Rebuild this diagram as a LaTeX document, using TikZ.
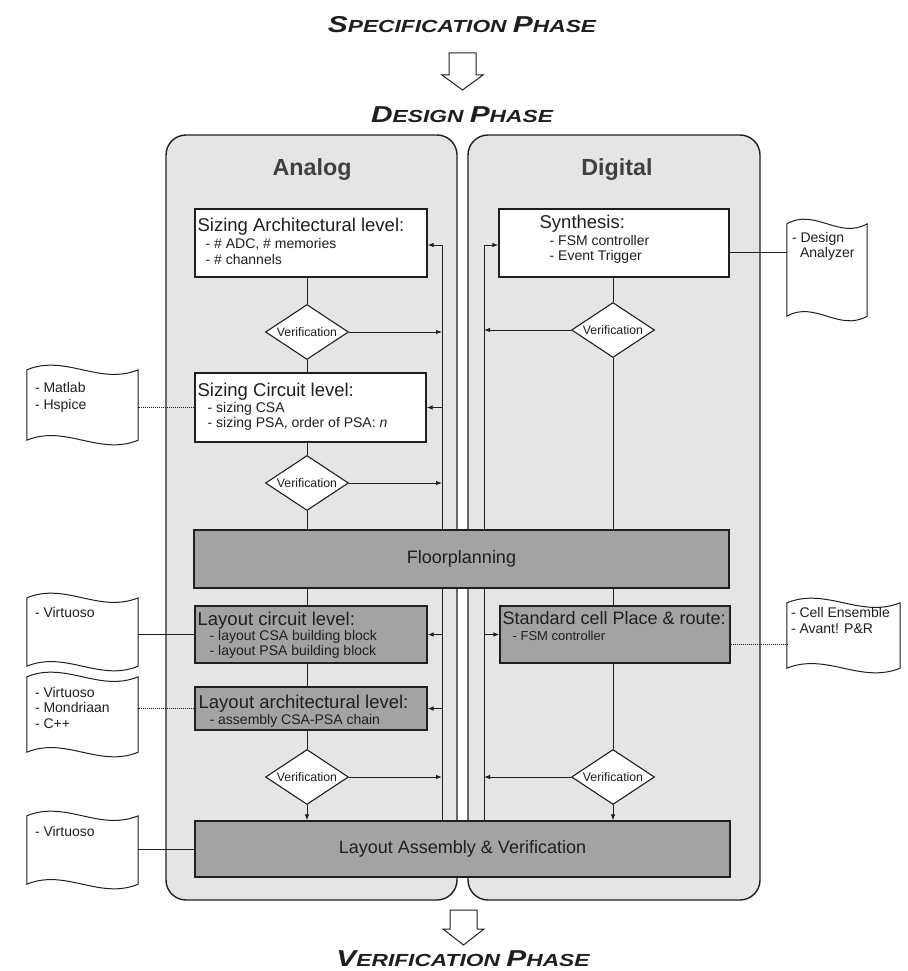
\documentclass[tikz,border=0pt]{standalone}
\usepackage{fontspec}
\setmainfont{Liberation Sans}
\usepackage{graphicx}
\usetikzlibrary{shapes.geometric,calc,arrows.meta}

\pgfdeclarelayer{panels}
\pgfdeclarelayer{wires}
\pgfsetlayers{panels,wires,main}

\definecolor{panelfill}{gray}{0.90}
\definecolor{darkfill}{gray}{0.64}
\definecolor{ink}{gray}{0.12}
\definecolor{titleink}{gray}{0.25}

\newcommand\headfont{\fontsize{18.5}{20}\selectfont}
\newcommand\subfont{\fontsize{14}{15}\selectfont}
% phase headings: large initials, smaller capitals, bold oblique, widened
\newcommand\phasetitle[4]{\scalebox{1.3}[1]{\bfseries\itshape
  \fontsize{23}{23}\selectfont #1\fontsize{17.5}{17.5}\selectfont #2\ %
  \fontsize{23}{23}\selectfont #3\fontsize{17.5}{17.5}\selectfont #4}}
% outline of a tool sheet: wavy top and bottom edges
\newcommand\wavydoc[1]{%
  \draw[docline] (#1.north west)
    .. controls ($(#1.north west)!0.35!(#1.north east)+(0,-16)$) and ($(#1.north west)!0.65!(#1.north east)+(0,16)$) .. (#1.north east)
    -- (#1.south east)
    .. controls ($(#1.south west)!0.65!(#1.south east)+(0,16)$) and ($(#1.south west)!0.35!(#1.south east)+(0,-16)$) .. (#1.south west)
    -- cycle;}

\tikzset{
  panel/.style={draw=ink, line width=1.4pt, fill=panelfill, rounded corners=20pt, inner sep=0pt},
  paneltitle/.style={font=\bfseries\fontsize{23.3}{24}\selectfont, text=titleink, anchor=base, inner sep=0pt},
  wbox/.style={draw=ink, line width=1.1pt, fill=white, inner sep=0pt},
  darkbox/.style={draw=ink, line width=1.1pt, fill=darkfill, inner sep=0pt, text=ink, font=\fontsize{18}{20}\selectfont},
  headtxt/.style={font=\headfont, text=ink, anchor=base west, inner sep=0pt},
  subtxt/.style={font=\subfont, text=ink, anchor=base west, inner sep=0pt},
  verif/.style={diamond, draw=ink, line width=1.1pt, fill=white, aspect=1.5, inner sep=0pt,
    minimum width=83, minimum height=55, font=\fontsize{12.3}{13}\selectfont, text=ink},
  docarea/.style={inner sep=0pt, draw=none},
  docline/.style={draw=ink, line width=1pt},
  link/.style={draw=ink, line width=1pt},
  dotlink/.style={draw=ink, line width=1pt, dash pattern=on 1pt off 1pt},
  arr/.style={draw=ink, line width=1pt, -{Latex[length=6pt,width=4.5pt]}},
  phase/.style={anchor=base, inner sep=0pt, text=ink},
  hollow/.style={draw=ink, line width=1pt, fill=white}
}

\begin{document}
\begin{tikzpicture}[x=1pt, y=-1pt]
\useasboundingbox (0,0) rectangle (907,971);

% ---------- phase headings and block arrows ----------
\node[phase] (spec) at (462,33) {\phasetitle{S}{PECIFICATION}{P}{HASE}};
\node[phase] (design) at (462,123) {\phasetitle{D}{ESIGN}{P}{HASE}};
\node[phase] (verph) at (463,966) {\phasetitle{V}{ERIFICATION}{P}{HASE}};
\draw[hollow] (449,53) -- (476,53) -- (476,75) -- (483,75) -- (462.5,90) -- (442,75) -- (449,75) -- cycle;
\draw[hollow] (450,910) -- (477,910) -- (477,929) -- (484,929) -- (463.5,945) -- (443,929) -- (450,929) -- cycle;

% ---------- the two columns ----------
\begin{pgfonlayer}{panels}
  \fill[white] (0,0) rectangle (907,971);
  \node[panel, minimum width=291, minimum height=765] (apanel) at (311.5,517.5) {};
  \node[panel, minimum width=292, minimum height=765] (dpanel) at (614,517.5) {};
\end{pgfonlayer}
\node[paneltitle] (atitle) at (312,175) {Analog};
\node[paneltitle] (dtitle) at (617,175) {Digital};

% ---------- analog flow ----------
\node[wbox, minimum width=232, minimum height=68] (sa) at (311,243) {};
\node[headtxt] (sa-h) at ([shift={(3,23)}]sa.north west) {Sizing Architectural level:};
\node[subtxt] (sa-1) at ([shift={(11,40)}]sa.north west) {- \# ADC, \# memories};
\node[subtxt] (sa-2) at ([shift={(11,56)}]sa.north west) {- \# channels};

\node[verif] (a1) at (307,332) {Verification};

\node[wbox, minimum width=231, minimum height=69] (sc) at (310.5,407.5) {};
\node[headtxt] (sc-h) at ([shift={(3,24)}]sc.north west) {Sizing Circuit level:};
\node[subtxt] (sc-1) at ([shift={(13,40)}]sc.north west) {- sizing CSA};
\node[subtxt] (sc-2) at ([shift={(13,55)}]sc.north west) {- sizing PSA, order of PSA: \textit{n}};

\node[verif] (a2) at (307,483) {Verification};

\node[darkbox, minimum width=535, minimum height=58] (floor) at (461.5,559) {Floorplanning};

\node[darkbox, minimum width=232, minimum height=57] (lcl) at (311,634.5) {};
\node[headtxt] (lcl-h) at ([shift={(3,20)}]lcl.north west) {Layout circuit level:};
\node[subtxt] (lcl-1) at ([shift={(15,35)}]lcl.north west) {- layout CSA building block};
\node[subtxt] (lcl-2) at ([shift={(15,50)}]lcl.north west) {- layout PSA building block};

\node[darkbox, minimum width=232, minimum height=43] (lal) at (311,708.5) {};
\node[headtxt] (lal-h) at ([shift={(4,22)}]lal.north west) {Layout architectural level:};
\node[subtxt] (lal-1) at ([shift={(15,38)}]lal.north west) {- assembly CSA-PSA chain};

\node[verif] (a3) at (307,777) {Verification};

\node[darkbox, minimum width=535, minimum height=56] (asm) at (462.5,849) {Layout Assembly \& Verification};

% ---------- digital flow ----------
\node[wbox, minimum width=230, minimum height=68] (syn) at (614,243) {};
\node[headtxt] (syn-h) at ([shift={(41,20)}]syn.north west) {Synthesis:};
\node[subtxt] (syn-1) at ([shift={(51,37)}]syn.north west) {- FSM controller};
\node[subtxt] (syn-2) at ([shift={(51,52)}]syn.north west) {- Event Trigger};

\node[verif] (d1) at (613,330) {Verification};

\node[darkbox, minimum width=230, minimum height=57] (std) at (615,634.5) {};
\node[headtxt, font=\fontsize{18}{20}\selectfont] (std-h) at ([shift={(3,19)}]std.north west) {Standard cell Place \& route:};
\node[subtxt, font=\fontsize{13}{14}\selectfont] (std-1) at ([shift={(13,35)}]std.north west) {- FSM controller};

\node[verif] (d2) at (613,777) {Verification};

% ---------- tool sheets ----------
\node[docarea, minimum width=111, minimum height=70] (matlab) at (82.5,405) {};
\node[subtxt] (matlab-1) at ([shift={(8,23)}]matlab.north west) {- Matlab};
\node[subtxt] (matlab-2) at ([shift={(8,40)}]matlab.north west) {- Hspice};
\wavydoc{matlab}

\node[docarea, minimum width=111, minimum height=68] (virt1) at (82.5,632) {};
\node[subtxt] (virt1-1) at ([shift={(8,20)}]virt1.north west) {- Virtuoso};
\wavydoc{virt1}

\node[docarea, minimum width=111, minimum height=75] (virt2) at (82.5,714.5) {};
\node[subtxt] (virt2-1) at ([shift={(8,21)}]virt2.north west) {- Virtuoso};
\node[subtxt] (virt2-2) at ([shift={(8,36)}]virt2.north west) {- Mondriaan};
\node[subtxt] (virt2-3) at ([shift={(8,52)}]virt2.north west) {- C++};
\wavydoc{virt2}

\node[docarea, minimum width=111, minimum height=68] (virt3) at (82.5,850) {};
\node[subtxt] (virt3-1) at ([shift={(8,21)}]virt3.north west) {- Virtuoso};
\wavydoc{virt3}

\node[docarea, minimum width=80, minimum height=92] (da) at (827,270) {};
\node[subtxt] (da-1) at ([shift={(5,19)}]da.north west) {- Design};
\node[subtxt] (da-2) at ([shift={(13,34)}]da.north west) {Analyzer};
\wavydoc{da}

\node[docarea, minimum width=113, minimum height=65] (ce) at (843.5,635.5) {};
\node[subtxt] (ce-1) at ([shift={(4,15)}]ce.north west) {- Cell Ensemble};
\node[subtxt] (ce-2) at ([shift={(4,31)}]ce.north west) {- Avant! P\&R};
\wavydoc{ce}

% ---------- connectors ----------
\begin{pgfonlayer}{wires}
  % analog downward flow
  \draw[link] (sa.south -| a1.north) -- (a1.north);
  \draw[link] (a1.south) -- (a1.south |- sc.north);
  \draw[link] (sc.south -| a2.north) -- (a2.north);
  \draw[link] (a2.south) -- (a2.south |- floor.north);
  \draw[link] (floor.south -| a2.south) -- (a2.south |- lcl.north);
  \draw[link] (lcl.south -| a3.north) -- (a3.north |- lal.north);
  \draw[link] (lal.south -| a3.north) -- (a3.north);
  \draw[arr] (a3.south) -- (a3.south |- asm.north);
  % digital downward flow
  \draw[link] (syn.south -| d1.north) -- (d1.north);
  \draw[link] (d1.south) -- (d1.south |- floor.north);
  \draw[link] (floor.south -| d1.south) -- (d1.south |- std.north);
  \draw[link] (std.south -| d2.north) -- (d2.north);
  \draw[arr] (d2.south) -- (d2.south |- asm.north);
  % analog return path
  \coordinate (afb) at (442,245);
  \draw[link] (afb) -- (afb |- asm.north);
  \draw[arr] (afb) -- (afb -| sa.east);
  \draw[arr] (sc.east -| afb) -- (sc.east);
  \draw[arr] (lcl.east -| afb) -- (lcl.east);
  \draw[arr] (lal.east -| afb) -- (lal.east);
  \draw[arr] (a1.east) -- (a1.east -| afb);
  \draw[arr] (a2.east) -- (a2.east -| afb);
  \draw[arr] (a3.east) -- (a3.east -| afb);
  % digital return path
  \coordinate (dfb) at (484,245);
  \draw[link] (dfb) -- (dfb |- asm.north);
  \draw[arr] (dfb) -- (dfb -| syn.west);
  \draw[arr] (std.west -| dfb) -- (std.west);
  \draw[arr] (d1.west) -- (d1.west -| dfb);
  \draw[arr] (d2.west) -- (d2.west -| dfb);
  % tool sheets
  \draw[dotlink] (sc.west) -- (sc.west -| matlab.east);
  \draw[link] (lcl.west) -- (lcl.west -| virt1.east);
  \draw[dotlink] (lal.west) -- (lal.west -| virt2.east);
  \draw[link] (asm.west) -- (asm.west -| virt3.east);
  \coordinate (synport) at ([yshift=-9pt]syn.east);
  \draw[link] (synport) -- (synport -| da.west);
  \coordinate (stdport) at ([yshift=-10pt]std.east);
  \draw[dotlink] (stdport) -- (stdport -| ce.west);
\end{pgfonlayer}
\end{tikzpicture}
\end{document}
